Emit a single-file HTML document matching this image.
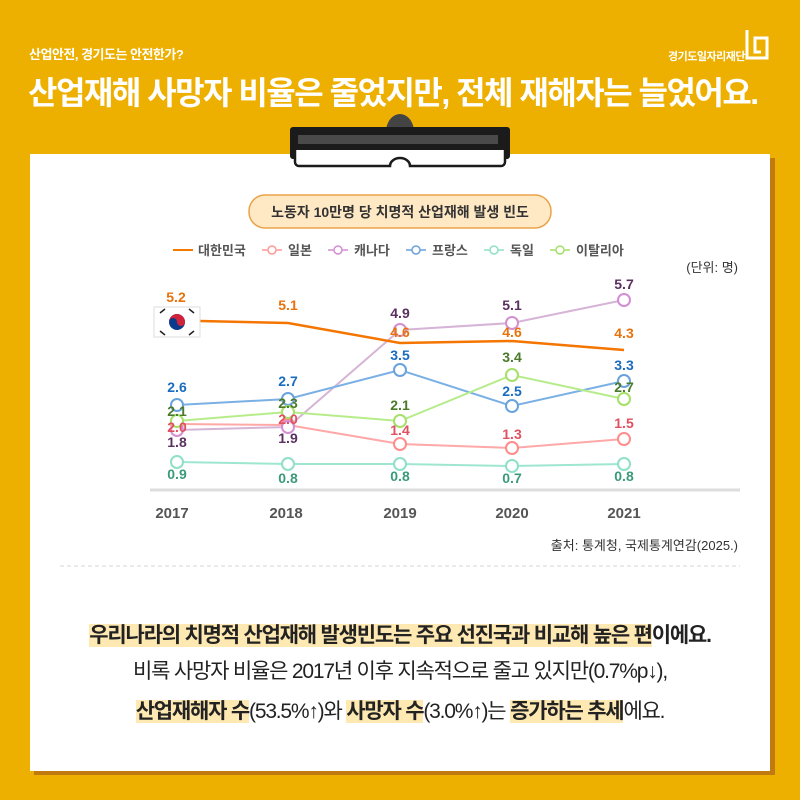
<!DOCTYPE html>
<html><head><meta charset="utf-8">
<style>
body{margin:0;width:800px;height:800px;background:#EDB000;position:relative;overflow:hidden;font-family:"Liberation Sans","Noto Sans CJK KR",sans-serif}
.t1{position:absolute;left:29px;top:44px;color:#fff;font-size:13px;font-weight:bold;letter-spacing:-0.5px}
.t2{position:absolute;left:28px;top:68px;color:#fff;font-size:32px;font-weight:bold;letter-spacing:-1.5px}
.logo{position:absolute;left:668px;top:48px;color:#fff;font-size:11px;font-weight:bold;letter-spacing:-0.5px}
.shadow{position:absolute;left:34px;top:158px;width:741px;height:617px;background:#C07A10}
.card{position:absolute;left:30px;top:154px;width:740px;height:617px;background:#fff}
.foot{position:absolute;left:0;width:800px;text-align:center;font-size:21px;font-weight:bold;color:#222;letter-spacing:-1.2px}
.hl{background:#FFE9B3}
</style></head><body>
<div class="t1">산업안전, 경기도는 안전한가?</div>
<div class="t2">산업재해 사망자 비율은 줄었지만, 전체 재해자는 늘었어요.</div>
<div class="logo">경기도일자리재단</div>
<svg style="position:absolute;left:743px;top:28px" width="28" height="36"><path d="M4 2v28h20V10H12v14h6" fill="none" stroke="#fff" stroke-width="3"/></svg>
<div class="shadow"></div>
<div class="card"></div>
<svg style="position:absolute;left:0;top:0" width="800" height="800">
<ellipse cx="400" cy="132" rx="14" ry="18" fill="#444"/>
<rect x="290" y="127" width="220" height="32" rx="3" fill="#1b1b1b"/>
<rect x="298" y="135" width="200" height="9" fill="#4a4a4a"/>
<path d="M295 150v12a4 4 0 0 0 4 4h91a10 8 0 0 1 20 0h91a4 4 0 0 0 4-4v-12" fill="#fff" stroke="#1b1b1b" stroke-width="2.5"/>
<rect x="249" y="195" width="302" height="33" rx="16" fill="#FFE9C4" stroke="#EBA34A" stroke-width="1.5"/>
<text x="400" y="217" text-anchor="middle" font-size="14" font-weight="bold" fill="#333">노동자 10만명 당 치명적 산업재해 발생 빈도</text>
<g font-size="13" fill="#555" font-weight="bold">
<line x1="173" y1="250" x2="193" y2="250" stroke="#F47B00" stroke-width="2"/><text x="198" y="255">대한민국</text>
<line x1="262" y1="250" x2="282" y2="250" stroke="#F99" stroke-width="1.5"/><circle cx="272" cy="250" r="4" fill="#fff" stroke="#F99" stroke-width="1.5"/><text x="288" y="255">일본</text>
<line x1="328" y1="250" x2="348" y2="250" stroke="#D48ED4" stroke-width="1.5"/><circle cx="338" cy="250" r="4" fill="#fff" stroke="#D48ED4" stroke-width="1.5"/><text x="354" y="255">캐나다</text>
<line x1="406" y1="250" x2="426" y2="250" stroke="#6AA2DC" stroke-width="1.5"/><circle cx="416" cy="250" r="4" fill="#fff" stroke="#6AA2DC" stroke-width="1.5"/><text x="432" y="255">프랑스</text>
<line x1="484" y1="250" x2="504" y2="250" stroke="#8FE0C8" stroke-width="1.5"/><circle cx="494" cy="250" r="4" fill="#fff" stroke="#8FE0C8" stroke-width="1.5"/><text x="510" y="255">독일</text>
<line x1="550" y1="250" x2="570" y2="250" stroke="#A4E06A" stroke-width="1.5"/><circle cx="560" cy="250" r="4" fill="#fff" stroke="#A4E06A" stroke-width="1.5"/><text x="576" y="255">이탈리아</text>
</g>
<text x="738" y="272" text-anchor="end" font-size="13" fill="#333">(단위: 명)</text>
<line x1="150" y1="490" x2="740" y2="490" stroke="#ddd" stroke-width="3"/>
<g font-size="15" fill="#555" text-anchor="middle" font-weight="bold">
<text x="172" y="518">2017</text><text x="286" y="518">2018</text><text x="400" y="518">2019</text><text x="512" y="518">2020</text><text x="624" y="518">2021</text></g>
<g fill="none" stroke-width="2">
<polyline points="177,462 288,464 400,464 512,466 624,464" stroke="#9EE6D0"/>
<polyline points="177,424 288,425 400,444 512,448 624,439" stroke="#FFA8A8"/>
<polyline points="177,430 288,427 400,330 512,323 624,300" stroke="#D6B4D6"/>
<polyline points="177,405 288,399 400,370 512,406 624,381" stroke="#7AB0E4"/>
<polyline points="177,421 288,412 400,421 512,375 624,399" stroke="#B6EC8A"/>
<polyline points="200,321 288,323 400,343 512,341 624,350" stroke="#F47500" stroke-width="2.5"/>
</g>
<g fill="#fff" stroke-width="2">
<g stroke="#8FE0C8"><circle cx="177" cy="462" r="6"/><circle cx="288" cy="464" r="6"/><circle cx="400" cy="464" r="6"/><circle cx="512" cy="466" r="6"/><circle cx="624" cy="464" r="6"/></g>
<g stroke="#FF8C8C"><circle cx="177" cy="424" r="6"/><circle cx="288" cy="425" r="6"/><circle cx="400" cy="444" r="6"/><circle cx="512" cy="448" r="6"/><circle cx="624" cy="439" r="6"/></g>
<g stroke="#D48ED4"><circle cx="177" cy="430" r="6"/><circle cx="288" cy="427" r="6"/><circle cx="400" cy="330" r="6"/><circle cx="512" cy="323" r="6"/><circle cx="624" cy="300" r="6"/></g>
<g stroke="#6AA2DC"><circle cx="177" cy="405" r="6"/><circle cx="288" cy="399" r="6"/><circle cx="400" cy="370" r="6"/><circle cx="512" cy="406" r="6"/><circle cx="624" cy="381" r="6"/></g>
<g stroke="#A4E06A"><circle cx="177" cy="421" r="6"/><circle cx="288" cy="412" r="6"/><circle cx="400" cy="421" r="6"/><circle cx="512" cy="375" r="6"/><circle cx="624" cy="399" r="6"/></g>
</g>
<rect x="154" y="307" width="46" height="30" fill="#fff" stroke="#ddd"/>
<circle cx="177" cy="322" r="8" fill="#0A3A8C"/><path d="M169 322a8 8 0 0 1 16 0a4 4 0 0 1-8 0a4 4 0 0 0-8 0z" fill="#D0223A"/>
<g stroke="#222" stroke-width="1.5"><line x1="160" y1="313" x2="165" y2="309"/><line x1="189" y1="309" x2="194" y2="313"/><line x1="160" y1="331" x2="165" y2="335"/><line x1="189" y1="335" x2="194" y2="331"/></g>
<g font-size="14" font-weight="bold" text-anchor="middle">
<g fill="#E8720C"><text x="176" y="302">5.2</text><text x="288" y="310">5.1</text><text x="400" y="337">4.6</text><text x="512" y="337">4.6</text><text x="624" y="338">4.3</text></g>
<g fill="#5A3060"><text x="177" y="447">1.8</text><text x="288" y="443">1.9</text><text x="400" y="318">4.9</text><text x="512" y="310">5.1</text><text x="624" y="289">5.7</text></g>
<g fill="#1A6CC0"><text x="177" y="392">2.6</text><text x="288" y="386">2.7</text><text x="400" y="360">3.5</text><text x="512" y="396">2.5</text><text x="624" y="370">3.3</text></g>
<g fill="#4A7A2A"><text x="177" y="416">2.1</text><text x="288" y="408">2.3</text><text x="400" y="410">2.1</text><text x="512" y="362">3.4</text><text x="624" y="392">2.7</text></g>
<g fill="#E05060"><text x="177" y="432">2.0</text><text x="288" y="424">2.0</text><text x="400" y="435">1.4</text><text x="512" y="439">1.3</text><text x="624" y="428">1.5</text></g>
<g fill="#3A9A7A"><text x="177" y="479">0.9</text><text x="288" y="483">0.8</text><text x="400" y="481">0.8</text><text x="512" y="483">0.7</text><text x="624" y="481">0.8</text></g>
</g>
<text x="738" y="550" text-anchor="end" font-size="13" fill="#333">출처: 통계청, 국제통계연감(2025.)</text>
<line x1="60" y1="566" x2="740" y2="566" stroke="#e4e4e4" stroke-width="1.5" stroke-dasharray="4,3"/>
</svg>
<div class="foot" style="top:619px"><span class="hl">우리나라의 치명적 산업재해 발생빈도는 주요 선진국과 비교해 높은 편</span>이에요.</div>
<div class="foot" style="top:655px;font-weight:normal">비록 사망자 비율은 2017년 이후 지속적으로 줄고 있지만(0.7%p↓),</div>
<div class="foot" style="top:695px"><span class="hl">산업재해자 수</span><span style="font-weight:normal">(53.5%↑)와 </span><span class="hl">사망자 수</span><span style="font-weight:normal">(3.0%↑)는 </span><span class="hl">증가하는 추세</span><span style="font-weight:normal">에요.</span></div>
</body></html>
